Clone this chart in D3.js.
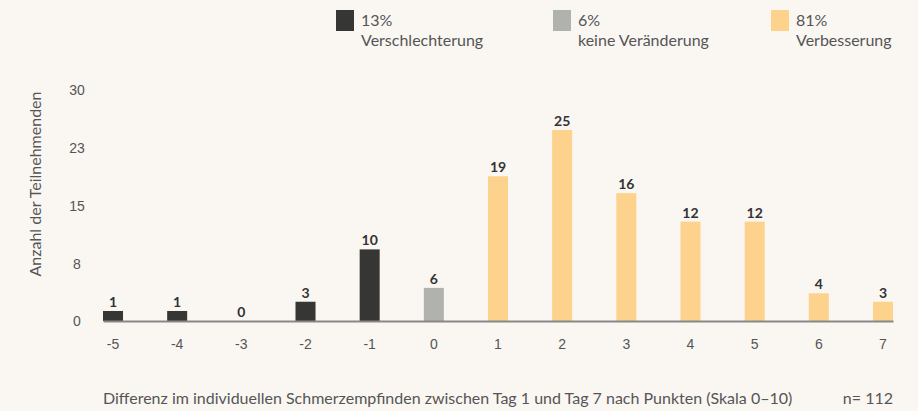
<!DOCTYPE html>
<html>
<head>
<meta charset="utf-8">
<script src="https://cdn.jsdelivr.net/npm/d3@7"></script>
<style>
  html, body { margin: 0; padding: 0; background: #faf7f3; }
  svg { display: block; font-family: Lato, "Open Sans", sans-serif; }
  .axis text { fill: #555; font-size: 14px; }
</style>
</head>
<body>
<div id="chart"></div>
<script>
const categories = [-5, -4, -3, -2, -1, 0, 1, 2, 3, 4, 5, 6, 7];
// labelled counts per difference
const counts = [1, 1, 0, 3, 10, 6, 19, 25, 16, 12, 12, 4, 3];
// bar heights as drawn in the original (they don't match the labels exactly)
const barHeights = [1.3, 1.3, 0, 2.5, 9.3, 4.3, 18.8, 24.8, 16.6, 12.9, 12.9, 3.6, 2.5];
const groups = ['worse', 'worse', 'worse', 'worse', 'worse', 'same',
  'better', 'better', 'better', 'better', 'better', 'better', 'better'];

const yTickValues = [0, 7.5, 15, 22.5, 30];
const yTickLabels = ['0', '8', '15', '23', '30'];

const legendKeys = ['worse', 'same', 'better'];
const legendPercent = ['13%', '6%', '81%'];
const legendNames = ['Verschlechterung', 'keine Veränderung', 'Verbesserung'];

const colors = { worse: '#363735', same: '#b0b3ad', better: '#fcd28c' };

const width = 918, height = 411;

const svg = d3.select('#chart').append('svg')
  .attr('width', width)
  .attr('height', height);

const x = d3.scaleBand()
  .domain(categories)
  .range([103, 893])
  .paddingInner(0.688)
  .paddingOuter(0);

const y = d3.scaleLinear().domain([0, 30]).range([321, 90]);

// y axis (labels only)
const yAxis = d3.axisLeft(y)
  .tickValues(yTickValues)
  .tickSize(0)
  .tickFormat((d, i) => yTickLabels[i]);
const yg = svg.append('g').attr('class', 'axis').attr('transform', 'translate(84,0)').call(yAxis);
yg.select('.domain').remove();
yg.selectAll('text').attr('x', -7).attr('text-anchor', 'middle').attr('dy', '0.35em');

svg.append('text')
  .attr('transform', 'translate(41,184) rotate(-90)')
  .attr('text-anchor', 'middle')
  .attr('fill', '#555')
  .style('font-size', '16px')
  .text('Anzahl der Teilnehmenden');

const data = categories.map((c, i) => ({ cat: c, count: counts[i], h: barHeights[i], group: groups[i] }));

// bars
svg.selectAll('.bar').data(data).enter().append('rect')
  .attr('class', 'bar')
  .attr('x', d => x(d.cat))
  .attr('y', d => y(d.h))
  .attr('width', x.bandwidth())
  .attr('height', d => y(0) - y(d.h))
  .attr('fill', d => colors[d.group]);

// value labels
svg.selectAll('.val').data(data).enter().append('text')
  .attr('class', 'val')
  .attr('x', d => x(d.cat) + x.bandwidth() / 2)
  .attr('y', d => y(d.h) - 4)
  .attr('text-anchor', 'middle')
  .attr('fill', '#333')
  .style('font-size', '14px')
  .style('font-weight', 'bold')
  .text(d => d.count);

// x axis
const xAxis = d3.axisBottom(x).tickSize(0).tickPadding(18);
const xg = svg.append('g').attr('class', 'axis').attr('transform', 'translate(0,' + y(0) + ')').call(xAxis);
xg.select('.domain').attr('stroke', '#888').attr('stroke-width', 2);

// legend
legendKeys.forEach((k, i) => {
  const lx = [336, 553, 771][i];
  const g = svg.append('g').attr('transform', 'translate(' + lx + ',10)');
  g.append('rect').attr('width', 18).attr('height', 21).attr('fill', colors[k]);
  g.append('text').attr('x', 25).attr('y', 16).attr('fill', '#555')
    .style('font-size', '16px').text(legendPercent[i]);
  g.append('text').attr('x', 25).attr('y', 36).attr('fill', '#555')
    .style('font-size', '16px').text(legendNames[i]);
});

// caption
svg.append('text').attr('x', 103).attr('y', 404).attr('fill', '#555')
  .style('font-size', '16px')
  .text('Differenz im individuellen Schmerzempfinden zwischen Tag 1 und Tag 7 nach Punkten (Skala 0–10)');
svg.append('text').attr('x', 893).attr('y', 404).attr('fill', '#555')
  .attr('text-anchor', 'end')
  .style('font-size', '16px')
  .text('n= 112');
</script>
</body>
</html>
